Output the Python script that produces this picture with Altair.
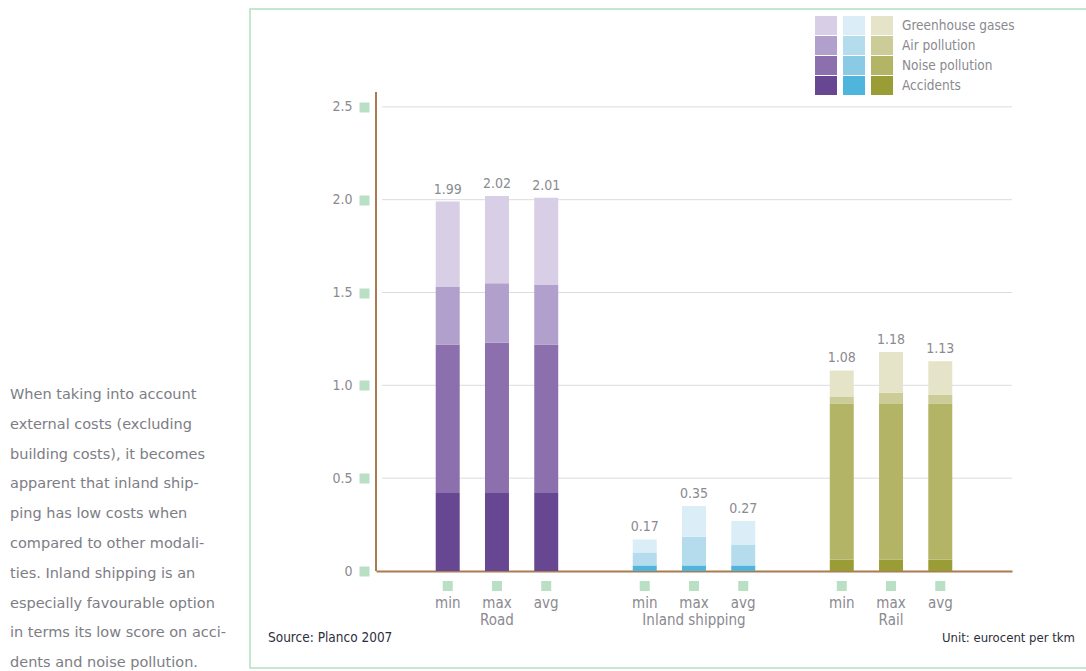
import altair as alt
import pandas as pd

# ---------------- data ----------------
groups = ["Road", "Inland shipping", "Rail"]
stats = ["min", "max", "avg"]
categories = ["Greenhouse gases", "Air pollution", "Noise pollution", "Accidents"]

road_accidents = [0.42, 0.42, 0.42]
road_noise = [0.80, 0.81, 0.80]
road_air = [0.31, 0.32, 0.32]
road_ghg = [0.46, 0.47, 0.47]

inland_accidents = [0.03, 0.03, 0.03]
inland_noise = [0.0, 0.0, 0.0]
inland_air = [0.07, 0.155, 0.11]
inland_ghg = [0.07, 0.165, 0.13]

rail_accidents = [0.06, 0.06, 0.06]
rail_noise = [0.84, 0.84, 0.84]
rail_air = [0.04, 0.06, 0.05]
rail_ghg = [0.14, 0.22, 0.18]

totals_road = [1.99, 2.02, 2.01]
totals_inland = [0.17, 0.35, 0.27]
totals_rail = [1.08, 1.18, 1.13]

y_ticks = [0, 0.5, 1.0, 1.5, 2.0, 2.5]
grid_values = [0.5, 1.0, 1.5, 2.0, 2.5]

paragraph_lines = [
    "When taking into account",
    "external costs (excluding",
    "building costs), it becomes",
    "apparent that inland ship-",
    "ping has low costs when",
    "compared to other modali-",
    "ties. Inland shipping is an",
    "especially favourable option",
    "in terms its low score on acci-",
    "dents and noise pollution.",
]
source_text = "Source: Planco 2007"
unit_text = "Unit: eurocent per tkm"

colors = {
    "Road": ["#d8cfe6", "#b1a0cb", "#8b70ad", "#674792"],
    "Inland shipping": ["#dbeef8", "#b4dced", "#8bcae5", "#4fb5dc"],
    "Rail": ["#e5e4c9", "#cbcc97", "#b3b465", "#9a9d35"],
}

series = {
    "Road": {"Accidents": road_accidents, "Noise pollution": road_noise,
             "Air pollution": road_air, "Greenhouse gases": road_ghg},
    "Inland shipping": {"Accidents": inland_accidents, "Noise pollution": inland_noise,
                        "Air pollution": inland_air, "Greenhouse gases": inland_ghg},
    "Rail": {"Accidents": rail_accidents, "Noise pollution": rail_noise,
             "Air pollution": rail_air, "Greenhouse gases": rail_ghg},
}
totals = {"Road": totals_road, "Inland shipping": totals_inland, "Rail": totals_rail}
rank = {"Accidents": 0, "Noise pollution": 1, "Air pollution": 2, "Greenhouse gases": 3}

rows = []
for g in groups:
    for cat, vals in series[g].items():
        for s, v in zip(stats, vals):
            rows.append({"group": g, "stat": s, "category": cat, "value": v, "rank": rank[cat]})
df = pd.DataFrame(rows)

tot_rows = []
for g in groups:
    for s, t in zip(stats, totals[g]):
        tot_rows.append({"group": g, "stat": s, "total": t})
df_tot = pd.DataFrame(tot_rows)

# ---------------- layout / style ----------------
W, H = 636, 479
FONT = "DejaVu Sans Condensed"
GRAY = "#8a8a8f"
BROWN = "#a97b50"
GREEN_SQ = "#b9dfc4"

yscale = alt.Scale(domain=[0, 2.58], nice=False, zero=True)
yaxis = alt.Axis(values=y_ticks, domain=False, ticks=True, tickColor=GREEN_SQ,
                 tickSize=10, tickWidth=10, offset=7, labelPadding=7,
                 labelColor=GRAY, labelFontSize=14, labelFont=FONT, grid=False,
                 title=None,
                 labelExpr="datum.value == 0 ? '0' : format(datum.value, '.1f')")
xaxis = alt.Axis(title=None, domain=True, domainColor=BROWN, domainWidth=2,
                 ticks=False, tickSize=0, labelPadding=41, labelColor=GRAY,
                 labelFontSize=15, labelFont=FONT, grid=False, labelAngle=0)

xenc = alt.X("group:N", scale=alt.Scale(domain=groups, paddingInner=0.25, paddingOuter=0.239),
             axis=xaxis)
xoenc = alt.XOffset("stat:N", scale=alt.Scale(domain=stats, paddingInner=0.513, paddingOuter=0.2565))

legend_x = {"Road": 440.5, "Inland shipping": 468.5, "Rail": 496.5}

layers = []

frame = alt.Chart(alt.Data(values=[{"a": 1}])).mark_rect(
    filled=False, stroke="#b3e0c1", strokeWidth=1.5
).encode(x=alt.value(-126), x2=alt.value(W + 100), y=alt.value(-83), y2=alt.value(H + 97))
layers.append(frame)

grid = alt.Chart(pd.DataFrame({"v": grid_values})).mark_rule(
    color="#dcdcdc", strokeWidth=1
).encode(y=alt.Y("v:Q", scale=yscale, axis=yaxis), x=alt.value(6), x2=alt.value(W))
layers.append(grid)

for g in groups:
    lkw = dict(
        orient="none", legendX=legend_x[g], legendY=-76, title=None,
        symbolType="M-1.158,-1L1.158,-1L1.158,1L-1.158,1Z", symbolSize=361,
        symbolStrokeWidth=0, symbolOpacity=1, rowPadding=1, padding=0, offset=0,
        labelFontSize=13.5, labelColor=GRAY, labelFont=FONT,
    )
    if g == "Rail":
        lkw["labelOffset"] = 10.5
    else:
        lkw["labelOffset"] = 0
        lkw["labelExpr"] = "''"
    lg = alt.Legend(**lkw)
    bars = alt.Chart(df[df.group == g]).mark_bar(opacity=1).encode(
        x=xenc, xOffset=xoenc,
        y=alt.Y("value:Q", stack="zero", scale=yscale, axis=yaxis),
        color=alt.Color("category:N", scale=alt.Scale(domain=categories, range=colors[g]), legend=lg),
        order=alt.Order("rank:Q", sort="ascending"),
    )
    layers.append(bars)

value_labels = alt.Chart(df_tot).mark_text(
    baseline="alphabetic", dy=-8, color=GRAY, fontSize=14, font=FONT
).encode(x=xenc, xOffset=xoenc, y=alt.Y("total:Q", scale=yscale, axis=yaxis),
         text=alt.Text("total:Q", format=".2f"))
layers.append(value_labels)

squares = alt.Chart(df_tot).mark_square(size=100, color=GREEN_SQ, opacity=1).encode(
    x=xenc, xOffset=xoenc, y=alt.value(H + 15))
layers.append(squares)

stat_labels = alt.Chart(df_tot).mark_text(
    baseline="middle", color=GRAY, fontSize=15, font=FONT
).encode(x=xenc, xOffset=xoenc, y=alt.value(H + 32), text="stat:N")
layers.append(stat_labels)

yline = alt.Chart(alt.Data(values=[{"a": 1}])).mark_rule(color=BROWN, strokeWidth=2).encode(
    x=alt.value(0), y=alt.value(0), y2=alt.value(H))
layers.append(yline)

texts = alt.Chart(alt.Data(values=[{"s": source_text, "u": unit_text}]))
src = texts.mark_text(align="left", baseline="middle", fontSize=13.5, font=FONT, color="#2e2e3a").encode(
    x=alt.value(-108), y=alt.value(H + 67), text="s:N")
unit = texts.mark_text(align="right", baseline="middle", fontSize=13, font=FONT, color="#2e2e3a").encode(
    x=alt.value(W + 63), y=alt.value(H + 67), text="u:N")
layers += [src, unit]

para = alt.Chart(alt.Data(values=[{"p": "\n".join(paragraph_lines)}])).mark_text(
    align="left", baseline="top", lineBreak="\n", lineHeight=29.8,
    fontSize=14.5, font="DejaVu Sans", color="#7d7d85"
).encode(x=alt.value(-366), y=alt.value(296), text="p:N")
layers.append(para)

chart = alt.layer(*layers).resolve_scale(color="independent").resolve_legend(
    color="independent"
).properties(
    width=W, height=H,
    autosize=alt.AutoSizeParams(type="none"),
    padding={"left": 376, "top": 92, "right": 74, "bottom": 100},
    background="white",
).configure_view(stroke=None)

chart.save("out.html", embed_options={"renderer": "svg", "actions": False})
